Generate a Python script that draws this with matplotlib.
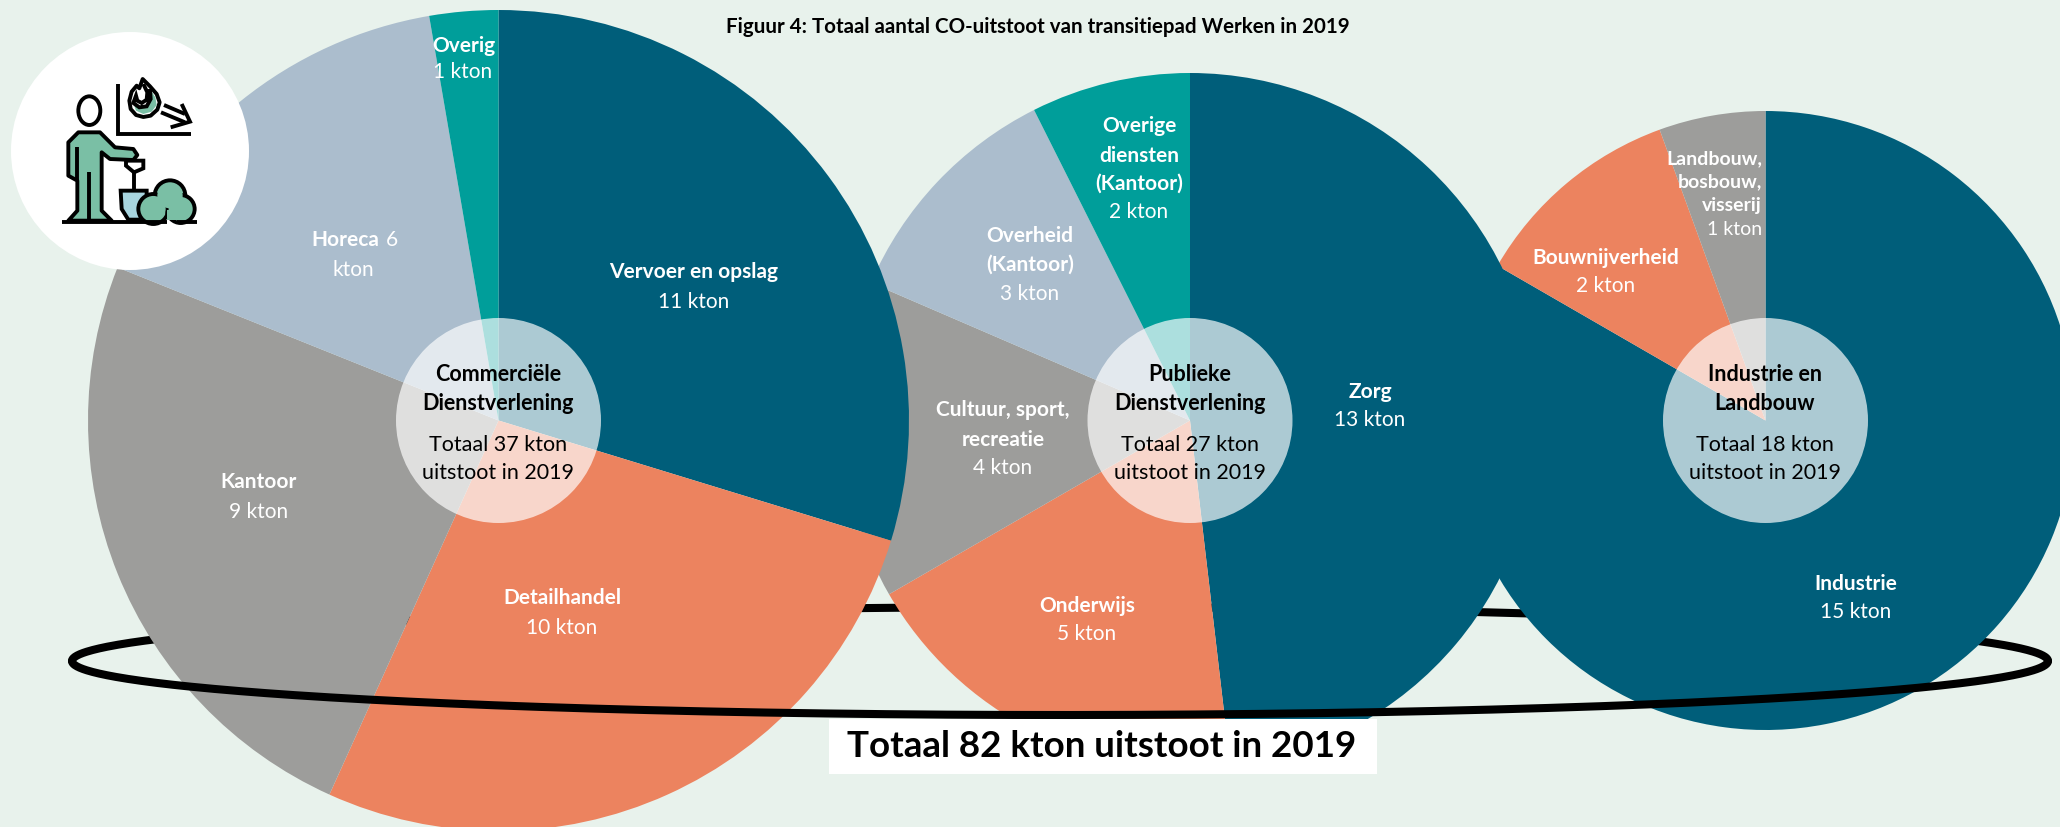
"""
Figuur 4: CO-uitstoot transitiepad Werken, three overlapping pies with a ring.
"""
import matplotlib
matplotlib.use("Agg")
import numpy as np
import matplotlib.pyplot as plt
from matplotlib.patches import Circle, Ellipse, Polygon, Rectangle

W, H = 2060, 828

plt.rcParams["font.family"] = ["Lato", "DejaVu Sans"]

BG = "#E8F2EC"
BLUE = "#005E7A"
TEAL = "#009E9A"
LIGHT = "#ABBDCD"
GREY = "#9D9D9B"
ORANGE = "#EC835F"
GREEN = "#7ABFA5"

# values in kton, clockwise from 12 o'clock
values_comm = [11, 10, 9, 6, 1]
values_pub = [13, 5, 4, 3, 2]
values_ind = [15, 2, 1]
colors_comm = [BLUE, ORANGE, GREY, LIGHT, TEAL]
colors_pub = [BLUE, ORANGE, GREY, LIGHT, TEAL]
colors_ind = [BLUE, ORANGE, GREY]

# text, x, y, bold (in image pixels)
labels = [
    ("Overig", 464, 44, True), ("1 kton", 463, 70, False),
    ("Vervoer en opslag", 694, 271, True), ("11 kton", 694, 300, False),
    ("Kantoor", 259, 481, True), ("9 kton", 259, 510, False),
    ("Detailhandel", 562, 597, True), ("10 kton", 562, 626, False),
    ("kton", 353, 268, False),
    ("Overige", 1139, 125, True), ("diensten", 1139, 154, True),
    ("(Kantoor)", 1139, 182, True), ("2 kton", 1139, 210, False),
    ("Overheid", 1030, 234, True), ("(Kantoor)", 1030, 263, True),
    ("3 kton", 1030, 292, False),
    ("Cultuur, sport,", 1003, 409, True), ("recreatie", 1003, 438, True),
    ("4 kton", 1003, 467, False),
    ("Onderwijs", 1087, 604, True), ("5 kton", 1087, 633, False),
    ("Zorg", 1370, 390, True), ("13 kton", 1370, 419, False),
    ("Bouwnijverheid", 1606, 257, True), ("2 kton", 1606, 285, False),
    ("Industrie", 1856, 583, True), ("15 kton", 1856, 611, False),
]
small_labels = [
    ("Landbouw,", 157, True), ("bosbouw,", 180, True),
    ("visserij", 204, True), ("1 kton", 228, False),
]
centre_labels = [
    ("Commerciële", "Dienstverlening", "Totaal 37 kton", 498),
    ("Publieke", "Dienstverlening", "Totaal 27 kton", 1190),
    ("Industrie en", "Landbouw", "Totaal 18 kton", 1765),
]

CY = 421.5


def Y(py):
    return H - py


def label(ax, x, y, txt, size=15, bold=False, color="white", ha="center"):
    # +1.5: Lato sits a little high against the reference
    ax.text(x, Y(y + 1.5), txt, fontsize=size, fontweight="bold" if bold else "normal",
            ha=ha, va="center", color=color, zorder=7)


def pie(ax, vals, cols, cx, r, z):
    ax.pie(vals, colors=cols, center=(cx, Y(CY)), radius=r, startangle=90,
           counterclock=False, wedgeprops=dict(linewidth=0, zorder=z))


def ring_half(ax, t0, t1, z):
    t = np.linspace(t0, t1, 400)
    ax.plot(1060 + 988 * np.cos(t), Y(662) + 54 * np.sin(t), color="black", lw=5.8, zorder=z,
            solid_capstyle="round")


def ic(pts):
    return [(x / 3, Y(y / 3)) for x, y in pts]


def draw_icon(ax):
    z = 8
    lw = 2.8
    ax.add_patch(Circle((130, Y(152)), 119, color="white", lw=0, zorder=7))
    body = [(205, 530), (205, 430), (235, 400), (300, 400), (345, 445), (400, 450),
            (412, 468), (400, 483), (330, 480), (305, 460), (305, 635), (335, 665),
            (205, 665), (232, 635), (232, 545)]
    ax.add_patch(Polygon(ic(body), closed=True, fc=GREEN, ec="black", lw=lw, zorder=z, joinstyle="round"))
    ax.add_patch(Ellipse((268 / 3, Y(335 / 3)), 66 / 3, 86 / 3, fc="white", ec="black", lw=lw, zorder=z))
    blade = [(362, 575), (440, 575), (440, 610), (420, 662), (385, 662), (365, 630)]
    ax.add_patch(Polygon(ic(blade), closed=True, fc="#A8D5DF", ec="black", lw=lw, zorder=z))
    grip = [(378, 485), (430, 485), (430, 508), (402, 520), (378, 500)]
    ax.add_patch(Polygon(ic(grip), closed=True, fc="white", ec="black", lw=lw, zorder=z))
    # bush: outlined circles first, then fills on top so one outline remains
    for cx, cy, r in [(510, 590, 46), (460, 630, 45), (542, 630, 42)]:
        ax.add_patch(Circle((cx / 3, Y(cy / 3)), r / 3, fc=GREEN, ec="black", lw=lw, zorder=z + 1))
    for cx, cy, r in [(510, 590, 38), (460, 630, 37), (542, 630, 34)]:
        ax.add_patch(Circle((cx / 3, Y(cy / 3)), r / 3, fc=GREEN, lw=0, zorder=z + 1.5))
    ax.add_patch(Rectangle((500 / 3, Y(664 / 3)), 30 / 3, 30 / 3, fc=GREEN, lw=0, zorder=z + 1.6))
    flame = [(428, 240), (450, 262), (470, 285), (479, 310), (472, 332), (452, 350), (430, 354),
             (408, 348), (392, 330), (388, 305), (395, 278), (410, 260), (418, 268)]
    ax.add_patch(Polygon(ic(flame), closed=True, fc="white", ec="black", lw=lw, zorder=z, joinstyle="round"))
    crescent = [(400, 312), (418, 325), (440, 322), (452, 300), (450, 270), (466, 295),
                (470, 318), (455, 338), (430, 345), (408, 335)]
    ax.add_patch(Polygon(ic(crescent), closed=True, fc=GREEN, lw=0, zorder=z + 0.5))
    swirl = [(430, 255), (442, 280), (440, 302), (425, 312), (412, 305), (408, 290), (400, 312), (418, 325),
             (440, 322), (452, 300), (450, 270)]
    segs = [
        [(353, 255), (353, 405), (572, 405)],
        [(185, 668), (500, 668)],
        [(530, 668), (592, 668)],
        [(232, 445), (232, 545)],
        [(268, 520), (268, 665)],
        [(402, 518), (402, 575)],
        [(483, 340), (555, 370)],
        [(492, 318), (555, 345)],
        [(545, 315), (570, 368), (512, 385)],
        swirl,
    ]
    for pts in segs:
        p = ic(pts)
        ax.plot([a for a, b in p], [b for a, b in p], color="black", lw=lw, zorder=z + 2,
                solid_capstyle="butt", solid_joinstyle="miter")


fig = plt.figure(figsize=(W / 100, H / 100), dpi=100, facecolor=BG)
ax = fig.add_axes([0, 0, 1, 1])

pie(ax, values_ind, colors_ind, 1765.5, 309.5, 2)
pie(ax, values_pub, colors_pub, 1190, 347.5, 3)
pie(ax, values_comm, colors_comm, 498.5, 410.5, 4)

# ring: back half behind the pies, front half over them
ring_half(ax, 0, np.pi, 1)
ring_half(ax, np.pi, 2 * np.pi, 6)

ax.add_patch(Rectangle((829, Y(775)), 548, 55, color="white", lw=0, zorder=5))
label(ax, 1102, 745, "Totaal 82 kton uitstoot in 2019", size=26.5, bold=True, color="black")
label(ax, 1038, 25, "Figuur 4: Totaal aantal CO-uitstoot van transitiepad Werken in 2019",
      size=14.8, bold=True, color="black")

for cx in [498.5, 1190, 1765.5]:
    ax.add_patch(Circle((cx, Y(CY)), 102.5, color="white", alpha=0.68, lw=0, zorder=6.5))

for txt, x, y, bold in labels:
    label(ax, x, y, txt, bold=bold)
label(ax, 379, 239, "Horeca", bold=True, ha="right")
label(ax, 386, 239, "6", ha="left")

for txt, y, bold in small_labels:
    label(ax, 1762, y, txt, size=14, bold=bold, ha="right")

for l1, l2, l3, cx in centre_labels:
    label(ax, cx, 373, l1, size=15.5, bold=True, color="black")
    label(ax, cx, 402, l2, size=15.5, bold=True, color="black")
    label(ax, cx, 444, l3, size=15.5, color="black")
    label(ax, cx, 472, "uitstoot in 2019", size=15.5, color="black")

draw_icon(ax)

ax.set_xlim(0, W)
ax.set_ylim(0, H)
ax.set_aspect("auto")
ax.axis("off")

fig.savefig("out.png", dpi=100, facecolor=BG)
